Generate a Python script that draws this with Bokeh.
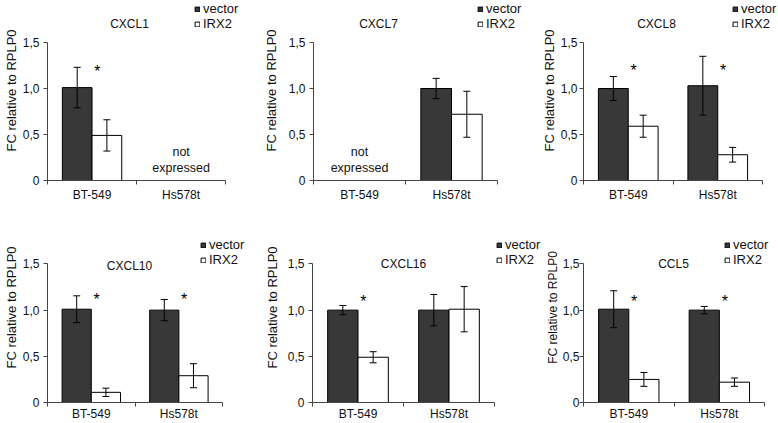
from bokeh.plotting import figure
from bokeh.layouts import row, column
from bokeh.models import (Range1d, FixedTicker, ColumnDataSource, Whisker, TeeHead,
                          Label, Legend, LegendItem)
from bokeh.core.properties import value
from bokeh.embed import file_html
from bokeh.resources import INLINE

# ---------------- data ----------------
genes = ["CXCL1", "CXCL7", "CXCL8", "CXCL10", "CXCL16", "CCL5"]
cell_lines = ["BT-549", "Hs578t"]
series_names = ["vector", "IRX2"]
NA = None
vector_mean = [[1.01, NA], [NA, 1.00], [1.00, 1.03], [1.01, 1.00], [1.00, 1.00], [1.01, 1.00]]
vector_sd = [[0.22, NA], [NA, 0.11], [0.13, 0.32], [0.145, 0.115], [0.05, 0.17], [0.20, 0.04]]
irx2_mean = [[0.49, NA], [NA, 0.72], [0.59, 0.28], [0.11, 0.29], [0.49, 1.01], [0.25, 0.22]]
irx2_sd = [[0.17, NA], [NA, 0.25], [0.12, 0.08], [0.045, 0.13], [0.06, 0.245], [0.075, 0.045]]
significant = [[True, False], [False, False], [True, True], [True, True], [True, False], [True, True]]
star_level = [1.28, NA, 1.29, 1.21, 1.19, 1.19]
y_ticks = [0, 0.5, 1.0, 1.5]
y_tick_labels = ["0", "0,5", "1,0", "1,5"]
y_axis_title = "FC relative to RPLP0"
not_expressed_label = "not\nexpressed"

# ---------------- styling / layout (pixels inside each figure) ----------------
FONT = "Liberation Sans"
VEC_FILL = "#383838"
AX_COL = "#444444"
TXT_COL = "#111111"
BAR_W = 1.0 / 3
NOTE_Y = 0.22
Y_TOP = 1.5
LEG_ROW = 15

panels = [
    # fig size, y-axis x, pixel of x=2, pixel of y=0, pixel of y=1.5, title, legend, axis styling
    dict(w=260, h=212, ax=46, x2=225, y0=180, y15=42, tx=128, ty=23, lx=193, ly=1,
         tso=4, als=1, yfs="13px", xso=3),
    dict(w=264, h=212, ax=53, x2=237, y0=180, y15=42, tx=118, ty=23, lx=217, ly=1,
         tso=4, als=7, yfs="13px", xso=3),
    dict(w=254, h=212, ax=59, x2=238, y0=180, y15=42, tx=132, ty=23, lx=208, ly=1,
         tso=2, als=1, yfs="13px", xso=3),
    dict(w=260, h=211, ax=46, x2=222, y0=192, y15=52, tx=128, ty=55, lx=199, ly=27,
         tso=4, als=1, yfs="13px", xso=0),
    dict(w=282, h=211, ax=52, x2=234, y0=192, y15=52, tx=143, ty=53, lx=236, ly=27,
         tso=4, als=5, yfs="13px", xso=0),
    dict(w=236, h=211, ax=39, x2=222, y0=192, y15=52, tx=129, ty=53, lx=180, ly=27,
         tso=0, als=0, yfs="12px", xso=0),
]


def make_panel(k, c):
    ncat = len(cell_lines)
    x_end = ncat * (c["w"] - c["ax"]) / (c["x2"] - c["ax"])
    y_end = Y_TOP * c["y0"] / (c["y0"] - c["y15"])
    p = figure(width=c["w"], height=c["h"], x_range=Range1d(0, x_end), y_range=Range1d(0, y_end),
               output_backend="svg", toolbar_location=None,
               min_border_left=c["ax"], min_border_right=0,
               min_border_top=0, min_border_bottom=c["h"] - c["y0"])
    p.outline_line_color = None
    p.xgrid.visible = False
    p.ygrid.visible = False
    p.background_fill_color = "white"
    p.border_fill_color = "white"

    renderers = []
    for means, sds, fill, off in ((vector_mean, vector_sd, VEC_FILL, -1.0 / 6),
                                  (irx2_mean, irx2_sd, "white", 1.0 / 6)):
        xs, tops, ups, los = [], [], [], []
        for i in range(ncat):
            m = means[k][i]
            if m is None:
                continue
            xs.append(i + 0.5 + off)
            tops.append(m)
            ups.append(m + sds[k][i])
            los.append(m - sds[k][i])
        src = ColumnDataSource(dict(x=xs, top=tops, upper=ups, lower=los))
        r = p.vbar(x="x", top="top", bottom=0, width=BAR_W, source=src,
                   fill_color=fill, line_color="black", line_width=1)
        renderers.append(r)
        p.add_layout(Whisker(source=src, base="x", upper="upper", lower="lower",
                             level="overlay", line_color="black", line_width=1,
                             upper_head=TeeHead(size=7, line_color="black", line_width=1),
                             lower_head=TeeHead(size=7, line_color="black", line_width=1)))

    # significance stars
    sx, sy = [], []
    for i in range(ncat):
        if significant[k][i]:
            sx.append(i + 0.56)
            sy.append(star_level[k])
    if sx:
        p.text(x=sx, y=sy, text=["*"] * len(sx), text_font=value(FONT),
               text_font_size="16px", text_align="center", text_baseline="alphabetic",
               y_offset=9, text_color="black")

    # not expressed
    nx = [i + 0.5 for i in range(ncat) if vector_mean[k][i] is None]
    if nx:
        p.text(x=nx, y=[NOTE_Y] * len(nx), text=[not_expressed_label] * len(nx),
               text_font=value(FONT), text_font_size="12.5px", text_align="center",
               text_baseline="middle", text_line_height=1.12, text_color=TXT_COL)

    # x axis (category boundaries get the tick marks, names sit in the middle)
    xa = p.xaxis[0]
    xa.bounds = (0, ncat)
    xa.ticker = FixedTicker(ticks=[i + 0.5 for i in range(ncat)],
                            minor_ticks=list(range(ncat + 1)))
    xa.major_label_overrides = {i + 0.5: name for i, name in enumerate(cell_lines)}
    xa.major_tick_out = 0
    xa.major_tick_in = 0
    xa.minor_tick_out = 4
    xa.minor_tick_in = 0
    xa.minor_tick_line_color = AX_COL
    xa.axis_line_color = AX_COL
    xa.major_label_text_font = FONT
    xa.major_label_text_font_size = "12px"
    xa.major_label_text_color = TXT_COL
    xa.major_label_standoff = c["xso"]

    ya = p.yaxis[0]
    ya.bounds = (0, Y_TOP)
    ya.ticker = FixedTicker(ticks=y_ticks, minor_ticks=[])
    ya.major_label_overrides = dict(zip(y_ticks, y_tick_labels))
    ya.major_tick_out = 4
    ya.major_tick_in = 0
    ya.major_tick_line_color = AX_COL
    ya.axis_line_color = AX_COL
    ya.major_label_text_font = FONT
    ya.major_label_text_font_size = "12px"
    ya.major_label_text_color = TXT_COL
    ya.major_label_standoff = c["tso"]
    ya.axis_label = y_axis_title
    ya.axis_label_text_font = FONT
    ya.axis_label_text_font_size = c["yfs"]
    ya.axis_label_text_font_style = "normal"
    ya.axis_label_text_color = TXT_COL
    ya.axis_label_standoff = c["als"]

    # panel title (screen offsets from the frame's bottom-left corner)
    p.add_layout(Label(x=c["tx"] - c["ax"], y=c["y0"] - c["ty"], x_units="screen", y_units="screen",
                       text=genes[k], text_font=FONT, text_font_size="12px",
                       text_align="center", text_baseline="middle", text_color=TXT_COL))

    legend = Legend(items=[LegendItem(label=series_names[0], renderers=[renderers[0]]),
                           LegendItem(label=series_names[1], renderers=[renderers[1]])],
                    location=(c["lx"] - c["ax"], c["y0"] - (c["ly"] + 2 * LEG_ROW)),
                    orientation="vertical",
                    glyph_width=6, glyph_height=6, label_height=LEG_ROW, label_standoff=3,
                    spacing=0, padding=0, margin=0, border_line_color=None,
                    background_fill_alpha=0, label_text_font=FONT,
                    label_text_font_size="13px", label_text_color=TXT_COL)
    p.add_layout(legend)
    return p


figs = [make_panel(k, c) for k, c in enumerate(panels)]
layout = column(row(*figs[:3]), row(*figs[3:]))

open("out.html", "w").write(file_html(layout, INLINE))
